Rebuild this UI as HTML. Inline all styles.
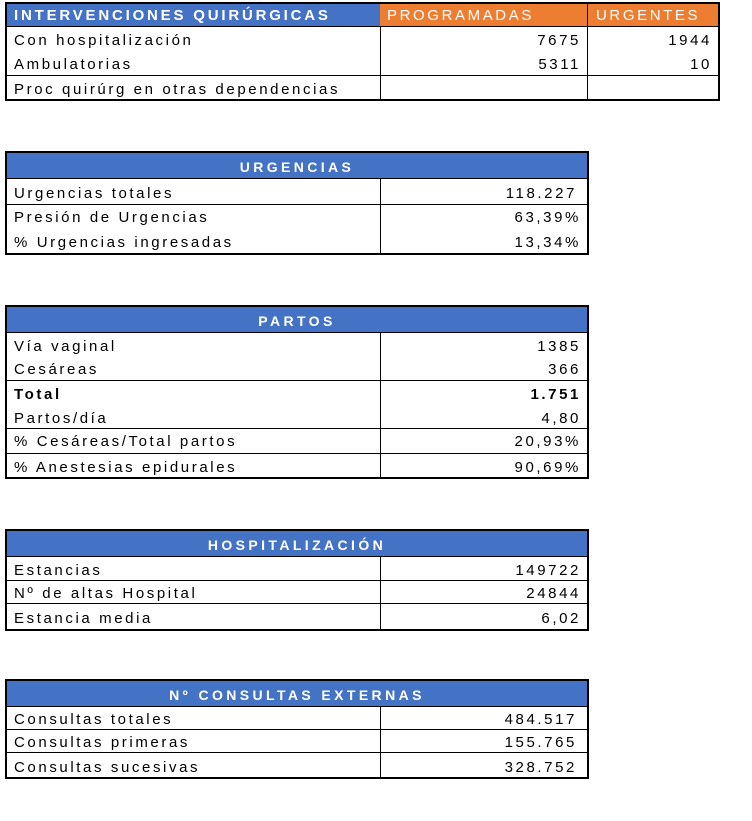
<!DOCTYPE html>
<html><head><meta charset="utf-8"><style>
body{margin:0;width:752px;height:821px;background:#fff;position:relative;font-family:"Liberation Sans",sans-serif;font-size:15px;letter-spacing:2.6px;color:#000}
div{position:absolute;box-sizing:border-box}
.box{border:2px solid #000}
.h{background:#4472c4;color:#fff;font-weight:bold;text-align:center;font-size:14px;letter-spacing:3.4px}
.hl{height:1px;background:#000}
.vl{width:1px;background:#000}
.t{left:14px;white-space:nowrap;line-height:18px;margin-top:2px}
.r{text-align:right;white-space:nowrap;line-height:18px;margin-top:2px}
</style></head><body>
<!-- Table 1 -->
<div style="left:6px;top:3px;width:374px;height:24px;background:#4472c4"></div>
<div style="left:380px;top:3px;width:339px;height:24px;background:#ed7d31"></div>
<div class="box" style="left:5px;top:2px;width:715px;height:99px"></div>
<div class="hl" style="left:6px;top:26px;width:713px"></div>
<div class="hl" style="left:6px;top:75px;width:713px"></div>
<div class="vl" style="left:380px;top:27px;height:73px"></div>
<div class="vl" style="left:587px;top:3px;height:97px"></div>
<div class="t" style="top:5px;color:#fff;font-weight:bold;letter-spacing:2.8px;left:14px">INTERVENCIONES QUIRÚRGICAS</div>
<div class="t" style="top:5px;left:387px;color:#fff;letter-spacing:2.6px">PROGRAMADAS</div>
<div class="t" style="top:5px;left:596px;color:#fff;letter-spacing:2.6px">URGENTES</div>
<div class="t" style="top:30px">Con hospitalización</div>
<div class="t" style="top:54px">Ambulatorias</div>
<div class="t" style="top:79px">Proc quirúrg en otras dependencias</div>
<div class="r" style="top:30px;right:171px">7675</div>
<div class="r" style="top:54px;right:171px">5311</div>
<div class="r" style="top:30px;right:40px">1944</div>
<div class="r" style="top:54px;right:40px">10</div>

<!-- Table 2 -->
<div class="h" style="left:6px;top:152px;width:582px;height:26px;line-height:30px">URGENCIAS</div>
<div class="box" style="left:5px;top:151px;width:584px;height:104px"></div>
<div class="hl" style="left:6px;top:178px;width:582px"></div>
<div class="hl" style="left:6px;top:204px;width:582px"></div>
<div class="vl" style="left:380px;top:178px;height:76px"></div>
<div class="t" style="top:183px">Urgencias totales</div>
<div class="t" style="top:207px">Presión de Urgencias</div>
<div class="t" style="top:232px">% Urgencias ingresadas</div>
<div class="r" style="top:183px;right:175px">118.227</div>
<div class="r" style="top:207px;right:171px">63,39%</div>
<div class="r" style="top:232px;right:171px">13,34%</div>

<!-- Table 3 -->
<div class="h" style="left:6px;top:306px;width:582px;height:26px;line-height:30px">PARTOS</div>
<div class="box" style="left:5px;top:305px;width:584px;height:174px"></div>
<div class="hl" style="left:6px;top:332px;width:582px"></div>
<div class="hl" style="left:6px;top:380px;width:582px"></div>
<div class="hl" style="left:6px;top:428px;width:582px"></div>
<div class="hl" style="left:6px;top:453px;width:582px"></div>
<div class="vl" style="left:380px;top:332px;height:146px"></div>
<div class="t" style="top:336px">Vía vaginal</div>
<div class="t" style="top:359px">Cesáreas</div>
<div class="t" style="top:384px;font-weight:bold">Total</div>
<div class="t" style="top:408px">Partos/día</div>
<div class="t" style="top:431px">% Cesáreas/Total partos</div>
<div class="t" style="top:457px">% Anestesias epidurales</div>
<div class="r" style="top:336px;right:171px">1385</div>
<div class="r" style="top:359px;right:171px">366</div>
<div class="r" style="top:384px;right:171px;font-weight:bold">1.751</div>
<div class="r" style="top:408px;right:171px">4,80</div>
<div class="r" style="top:431px;right:171px">20,93%</div>
<div class="r" style="top:457px;right:171px">90,69%</div>

<!-- Table 4 -->
<div class="h" style="left:6px;top:530px;width:582px;height:26px;line-height:30px">HOSPITALIZACIÓN</div>
<div class="box" style="left:5px;top:529px;width:584px;height:102px"></div>
<div class="hl" style="left:6px;top:556px;width:582px"></div>
<div class="hl" style="left:6px;top:580px;width:582px"></div>
<div class="hl" style="left:6px;top:603px;width:582px"></div>
<div class="vl" style="left:380px;top:556px;height:74px"></div>
<div class="t" style="top:560px">Estancias</div>
<div class="t" style="top:583px">Nº de altas Hospital</div>
<div class="t" style="top:608px">Estancia media</div>
<div class="r" style="top:560px;right:171px">149722</div>
<div class="r" style="top:583px;right:171px">24844</div>
<div class="r" style="top:608px;right:171px">6,02</div>

<!-- Table 5 -->
<div class="h" style="left:6px;top:680px;width:582px;height:26px;line-height:30px">Nº CONSULTAS EXTERNAS</div>
<div class="box" style="left:5px;top:679px;width:584px;height:100px"></div>
<div class="hl" style="left:6px;top:706px;width:582px"></div>
<div class="hl" style="left:6px;top:729px;width:582px"></div>
<div class="hl" style="left:6px;top:752px;width:582px"></div>
<div class="vl" style="left:380px;top:706px;height:72px"></div>
<div class="t" style="top:709px">Consultas totales</div>
<div class="t" style="top:732px">Consultas primeras</div>
<div class="t" style="top:757px">Consultas sucesivas</div>
<div class="r" style="top:709px;right:175px">484.517</div>
<div class="r" style="top:732px;right:175px">155.765</div>
<div class="r" style="top:757px;right:175px">328.752</div>
</body></html>
